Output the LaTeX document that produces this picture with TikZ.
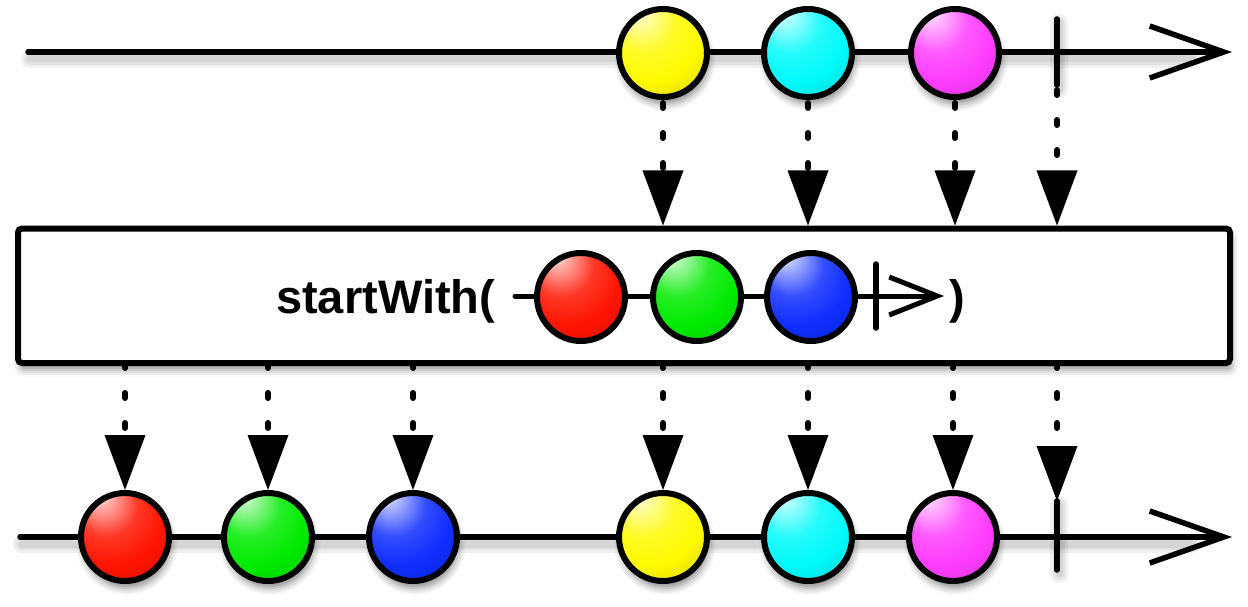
\documentclass[tikz,border=0pt]{standalone}
\usepackage{fontspec}
\setmainfont{Liberation Sans}
\usetikzlibrary{arrows.meta,shadows.blur}
\colorlet{mcol}{red}
\pgfdeclareradialshading[mcol]{marble}{\pgfqpoint{-15bp}{25bp}}{%
  color(0bp)=(mcol!5!white); color(6bp)=(mcol!35!white); color(18bp)=(mcol!85!white);
  color(30bp)=(mcol); color(46bp)=(mcol!82!black); color(66bp)=(mcol!55!black)}
\definecolor{myellow}{RGB}{255,250,0}
\definecolor{mcyan}{RGB}{0,250,250}
\definecolor{mmagenta}{RGB}{255,60,255}
\definecolor{mred}{RGB}{255,20,0}
\definecolor{mgreen}{RGB}{0,235,0}
\definecolor{mblue}{RGB}{15,45,255}
\begin{document}
\begin{tikzpicture}[x=1pt,y=-1pt,
  marble/.style={circle, draw=black, line width=6pt, minimum size=88pt, inner sep=0pt,
    /utils/exec={\colorlet{mcol}{#1}}, shading=marble},
  msh/.style={blur shadow={shadow xshift=2pt, shadow yshift=-7pt, shadow blur radius=7pt, shadow opacity=45}},
  box/.style={draw=black, fill=white, line width=6pt, rounded corners=4pt, inner sep=0pt,
    minimum width=1212pt, minimum height=134.5pt,
    blur shadow={shadow xshift=2pt, shadow yshift=-7pt, shadow blur radius=7pt, shadow opacity=40}},
  tline/.style={line width=5.5pt, line cap=round, -{Straight Barb[length=74pt,width=52pt,line cap=butt]}},
  iline/.style={line width=5pt, line cap=round, -{Straight Barb[length=48pt,width=38pt,line cap=butt]}},
  tick/.style={line width=5.5pt, line cap=round},
  lsh/.style={line cap=round, draw=black, draw opacity=0.06, line width=#1},
  darr/.style={line width=6pt, line cap=round, dash pattern=on 5pt off 25pt,
    -{Triangle[width=41pt,length=55pt,line width=0pt]}},
  lbl/.style={font=\bfseries\fontsize{47pt}{50pt}\selectfont, inner sep=0pt, anchor=base west}
]
\useasboundingbox (0,0) rectangle (1248,607);

% named points
\coordinate (ts) at (28,52);   \coordinate (te) at (1232,52);
\coordinate (bs) at (20,537);  \coordinate (be) at (1232,537);
\coordinate (tt1) at (1057,19); \coordinate (tt2) at (1057,85);
\coordinate (bt1) at (1057,501); \coordinate (bt2) at (1057,570);
\coordinate (is) at (515,296);  \coordinate (ie) at (944,296);
\coordinate (it1) at (876,264); \coordinate (it2) at (876,328);

% operator box
\node[box] (box) at (624,295.75) {};

% line shadows
\foreach \w in {18,12,7}{
  \draw[lsh=\w pt] ([shift={(2,7)}]ts) -- ([shift={(-40,7)}]te);
  \draw[lsh=\w pt] ([shift={(2,7)}]bs) -- ([shift={(-40,7)}]be);
  \draw[lsh=\w pt] ([shift={(2,4)}]tt1) -- ([shift={(2,4)}]tt2);
  \draw[lsh=\w pt] ([shift={(2,4)}]bt1) -- ([shift={(2,4)}]bt2);
}

% timelines
\draw[tline] (ts) -- (te);
\draw[tick] (tt1) -- (tt2);
\draw[tline] (bs) -- (be);
\draw[tick] (bt1) -- (bt2);

% inner timeline
\draw[iline] (is) -- (ie);
\draw[tick] (it1) -- (it2);
\node[marble=mred] (ir) at (581,297) {};
\node[marble=mgreen] (ig) at (697,297) {};
\node[marble=mblue] (ib) at (811,297) {};
\node[lbl] (sw) at (276,313) {startWith(};
\node[lbl] (cp) at (949,313) {)};

% top marbles
\node[marble=myellow, msh] (ty) at (663,53) {};
\node[marble=mcyan, msh] (tc) at (808,53) {};
\node[marble=mmagenta, msh] (tm) at (955,53) {};

% bottom marbles
\node[marble=mred, msh] (br) at (125,537) {};
\node[marble=mgreen, msh] (bg) at (268,537) {};
\node[marble=mblue, msh] (bb) at (413,537) {};
\node[marble=myellow, msh] (by) at (663,537) {};
\node[marble=mcyan, msh] (bc) at (808,537) {};
\node[marble=mmagenta, msh] (bm) at (953,537) {};

% dashed arrows into the box
\draw[darr, dash phase=27pt] (ty.south) -- (ty.south |- box.north);
\draw[darr, dash phase=27pt] (tc.south) -- (tc.south |- box.north);
\draw[darr, dash phase=27pt] (tm.south) -- (tm.south |- box.north);
\draw[darr, dash phase=25pt] (tt2) -- (tt2 |- box.north);

% dashed arrows out of the box
\draw[darr, dash phase=3pt] (box.south -| br.north) -- (br.north);
\draw[darr, dash phase=3pt] (box.south -| bg.north) -- (bg.north);
\draw[darr, dash phase=3pt] (box.south -| bb.north) -- (bb.north);
\draw[darr, dash phase=3pt] (box.south -| by.north) -- (by.north);
\draw[darr, dash phase=3pt] (box.south -| bc.north) -- (bc.north);
\draw[darr, dash phase=3pt] (box.south -| bm.north) -- (bm.north);
\draw[darr, dash phase=3pt] (box.south -| bt1) -- (bt1);
\end{tikzpicture}
\end{document}
